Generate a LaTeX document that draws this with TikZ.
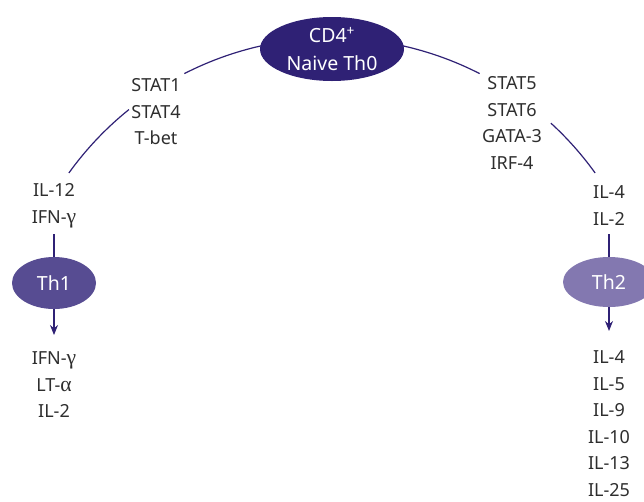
\documentclass[tikz,border=0pt]{standalone}
\usepackage{fontspec}
\setmainfont{Noto Sans}
\newfontfamily\grk[Scale=1.2]{Liberation Serif}
\usetikzlibrary{shapes.geometric,arrows.meta}
\definecolor{navy}{HTML}{2F2175}
\definecolor{thone}{HTML}{574C92}
\definecolor{thtwo}{HTML}{8378B0}
\definecolor{txt}{HTML}{2E2E2E}
\begin{document}
\begin{tikzpicture}[x=1pt,y=1pt,
  lbl/.style={anchor=north, inner sep=0pt, align=center, text=txt,
              font=\fontsize{18}{26.5}\selectfont},
  cell/.style={ellipse, inner sep=0pt, align=center, text=white,
               font=\fontsize{19.5}{28}\selectfont},
  link/.style={draw=navy, line width=1.2pt},
  arr/.style={link, -{Stealth[length=10pt,width=8pt]}}]
\useasboundingbox (0,0) rectangle (644,-501);
\clip (0,0) rectangle (644,-501);

% great arc joining the naive cell to both branches
\coordinate (ctr) at (332,-362);
\coordinate (top) at (332,-38);
\coordinate (rL) at ([shift={(128.8:324)}]ctr);
\coordinate (rR) at ([shift={(47.5:324)}]ctr);
\draw[link] (top) arc[start angle=90,end angle=117.1,radius=324];
\draw[link] (rL) arc[start angle=128.8,end angle=144.3,radius=324];
\draw[link] (top) arc[start angle=90,end angle=62.9,radius=324];
\draw[link] (rR) arc[start angle=47.5,end angle=35.7,radius=324];

% cells
\node[cell, fill=navy, minimum width=144pt, minimum height=64pt] (cd4) at (332,-49)
  {CD4\textsuperscript{+}\\Naive Th0};
\node[cell, fill=thone, minimum width=84pt, minimum height=52pt] (th1) at (54,-283) {Th1};
\node[cell, fill=thtwo, minimum width=92pt, minimum height=50pt] (th2) at (609,-282) {Th2};

% transcription factors
\node[lbl] (sL) at (156,-78.5) {STAT1\\STAT4\\T-bet};
\node[lbl] (sR) at (512,-76.5) {STAT5\\STAT6\\GATA-3\\IRF-4};

% inducing cytokines
\node[lbl] (inL) at (54,-183.5) {IL-12\\IFN-{\grk γ}};
\node[lbl] (inR) at (609,-185.5) {IL-4\\IL-2};

% secreted cytokines
\node[lbl] (outL) at (54,-351.5) {IFN-{\grk γ}\\LT-{\grk α}\\IL-2};
\node[lbl] (outR) at (609,-350.5) {IL-4\\IL-5\\IL-9\\IL-10\\IL-13\\IL-25};

% stems and arrows
\coordinate (l1) at (54,-234);
\coordinate (a1) at (54,-335);
\coordinate (l2) at (609,-234);
\coordinate (a2) at (609,-331);
\draw[link] (l1) -- (th1);
\draw[arr] (th1) -- (a1);
\draw[link] (l2) -- (th2);
\draw[arr] (th2) -- (a2);
\end{tikzpicture}
\end{document}
